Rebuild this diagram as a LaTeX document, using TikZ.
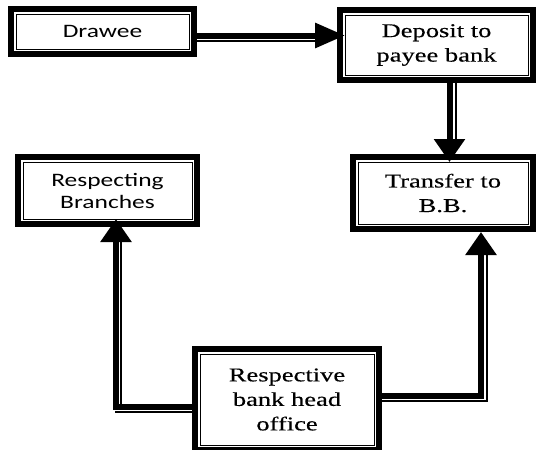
\documentclass[tikz,border=0pt]{standalone}
\usepackage{fontspec}
\newfontfamily\serifx[FakeStretch=1.36,FakeBold=0.3]{Liberation Serif}
\newfontfamily\sansx[FakeStretch=1.34]{Carlito}
\usetikzlibrary{arrows.meta,calc}
\begin{document}
\begin{tikzpicture}[x=1pt,y=-1pt,
  box/.style={draw, line width=1pt, fill=white, inner sep=0pt, outer sep=0pt, align=center},
  sfont/.style={font=\serifx\fontsize{19.5}{24.5}\selectfont},
  cfont/.style={font=\sansx\fontsize{19}{22}\selectfont},
  thickline/.style={line width=6pt},
  thinline/.style={line width=1.2pt},
  harr/.style={-{Triangle[length=30pt,width=24pt]}},
  varr/.style={-{Triangle[length=23pt,width=30pt]}}]
\useasboundingbox (0,0) rectangle (536,450);
% boxes
\node[box,cfont,minimum width=173pt,minimum height=35pt] (drawee) at (102.5,31.5) {Drawee};
\node[box,sfont,minimum width=183pt,minimum height=60pt] (deposit) at (436.5,45) {Deposit to\\payee bank};
\node[box,sfont,minimum width=170pt,minimum height=62pt] (transfer) at (443,193) {Transfer to\\B.B.};
\node[box,cfont,minimum width=169pt,minimum height=57pt] (resp) at (107.5,190.5) {Respecting\\Branches};
\node[box,sfont,minimum width=174pt,minimum height=91pt] (head) at (287,399.5) {Respective\\bank head\\office};
\foreach \n in {drawee,deposit,transfer,resp,head}
  \draw[thickline] ([shift={(-5,-5)}]\n.north west) rectangle ([shift={(5,5)}]\n.south east);
% connector: Drawee -> Deposit
\draw[thickline,harr] ($(drawee.east)+(8,4)$) -- ($(deposit.west)+(0,-9.5)$);
\draw[thinline] ($(drawee.east)+(8,9.5)$) -- ($(deposit.west)+(-30,-4)$);
% connector: Deposit -> Transfer
\draw[thickline,varr] ($(deposit.south)+(13,8)$) -- ($(transfer.north)+(6.5,0)$);
\draw[thinline] ($(deposit.south)+(19.5,8)$) -- ($(transfer.north)+(13,-23)$);
% connector: Head office -> Respecting Branches
\draw[thickline,varr] ($(head.west)+(-8,7.5)$) -| ($(resp.south)+(8.5,0)$);
\draw[thinline] ($(resp.south)+(13.5,23)$) -- ++(0,163);
\draw[thinline] ($(head.west)+(-8,12.5)$) -- ++(-77,0);
% connector: Head office -> Transfer
\draw[thickline,varr] ($(head.east)+(8,-4)$) -| ($(transfer.south)+(38,8)$);
\draw[thinline] ($(head.east)+(8,1.5)$) -| ($(transfer.south)+(44,31)$);
\end{tikzpicture}
\end{document}
